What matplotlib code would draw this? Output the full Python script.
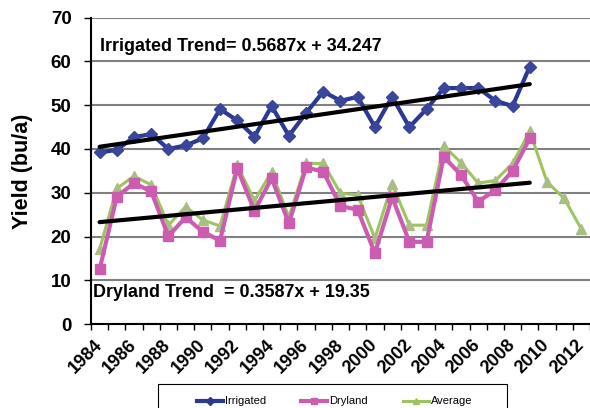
import matplotlib
matplotlib.use("Agg")
import matplotlib.pyplot as plt
from matplotlib.lines import Line2D
from matplotlib.patches import Rectangle

plt.rcParams['font.family'] = ['Liberation Sans', 'DejaVu Sans']

years = list(range(1984, 2013))
irrigated = [39.2, 39.8, 42.7, 43.4, 40.0, 40.8, 42.4, 49.1, 46.5, 42.8, 49.8, 43.0, 48.2, 53.1,
             51.0, 51.9, 45.0, 51.9, 45.0, 49.1, 53.9, 53.9, 53.9, 51.0, 49.8, 58.8]
dryland = [12.5, 29.1, 32.2, 30.3, 20.1, 24.4, 21.1, 19.1, 35.6, 25.9, 33.3, 23.0, 35.8, 34.8,
           27.0, 26.1, 16.2, 29.0, 18.8, 18.8, 38.2, 34.1, 28.0, 30.6, 35.0, 42.4]
average = [17.1, 31.0, 33.8, 31.8, 22.6, 26.8, 23.8, 22.4, 36.3, 28.2, 34.8, 24.4, 36.7, 36.7,
           29.9, 29.5, 19.6, 32.0, 22.6, 22.6, 40.7, 36.9, 32.2, 32.8, 36.7, 44.0, 32.5, 28.7, 21.7]
irr_trend = [40.5, 54.8]   # at 1984 and 2009
dry_trend = [23.3, 32.3]   # at 1984 and 2009
irr_label = "Irrigated Trend= 0.5687x + 34.247"
dry_label = "Dryland Trend  = 0.3587x + 19.35"

fig = plt.figure(figsize=(5.9, 4.08), dpi=100)
ax = fig.add_axes([0.1542, 0.2054, 0.8458, 0.7516])

navy = '#2B3990'
pink = '#CC5CB0'
green = '#9DC45F'

xi = list(range(len(irrigated)))
xd = list(range(len(dryland)))
xa = list(range(len(average)))

ax.plot(xa, average, color=green, lw=2.2, marker='^', ms=6.5, mfc='#A8BE84', mec='#A8BE84', zorder=3)
ax.plot(xd, dryland, color=pink, lw=3, marker='s', ms=6.5, mfc=pink, mec=pink, zorder=4)
ax.plot(xi, irrigated, color=navy, lw=3, marker='D', ms=6, mfc='#3A4699', mec='#3A4699', zorder=5)

ax.plot([0, 25], irr_trend, color='black', lw=3, solid_capstyle='round', zorder=6)
ax.plot([0, 25], dry_trend, color='black', lw=3, solid_capstyle='round', zorder=6)

ax.set_xlim(-0.5, 28.5)
ax.set_ylim(0, 70)
ax.set_yticks(range(0, 71, 10))
ax.yaxis.grid(True, color='#808080', lw=1.5)
ax.set_axisbelow(True)

ax.set_xticks([i - 0.5 for i in range(len(years) + 1)])
ax.set_xticklabels([])
ax.set_xticks(range(0, len(years), 2), minor=True)
ax.set_xticklabels([str(y) for y in years[::2]], minor=True, rotation=45, ha='right', va='center',
                   rotation_mode='anchor', fontsize=13, fontweight='bold')
ax.tick_params(axis='x', which='major', length=4, width=1, direction='out')
ax.tick_params(axis='x', which='minor', length=0, pad=13)
ax.tick_params(axis='y', length=5, width=1, labelsize=13.5, pad=9)
for t in ax.get_yticklabels():
    t.set_fontweight('bold')

for s in ['top', 'right']:
    ax.spines[s].set_visible(False)
ax.spines['left'].set_linewidth(1.5)
ax.spines['bottom'].set_linewidth(1.5)

ax.set_ylabel('Yield (bu/a)', fontsize=15.5, fontweight='bold', labelpad=13)

ax.text(0.0, 63.5, irr_label, fontsize=12.9, fontweight='bold', ha='left', va='center')
ax.text(-0.4, 7.3, dry_label, fontsize=12.9, fontweight='bold', ha='left', va='center')

# legend frame (extends past the bottom edge as in the reference)
fig.patches.append(Rectangle((157.7 / 590, -0.05), (506.7 - 157.7) / 590, 0.05 + (408 - 384.3) / 408,
                             transform=fig.transFigure, fill=False, edgecolor='black', lw=0.8))
handles = [Line2D([], [], color=navy, lw=3, marker='D', ms=4),
           Line2D([], [], color=pink, lw=3, marker='s', ms=4),
           Line2D([], [], color=green, lw=2.2, marker='^', ms=4)]
leg = fig.legend(handles, ['Irrigated', 'Dryland', 'Average'], loc='center left',
                 bbox_to_anchor=(197 / 590, 1 - 401.5 / 408), ncol=3, fontsize=8,
                 frameon=False, handlelength=2.3, handletextpad=0.2, columnspacing=3.2,
                 borderaxespad=0, borderpad=0)

fig.savefig('out.png', dpi=100)
